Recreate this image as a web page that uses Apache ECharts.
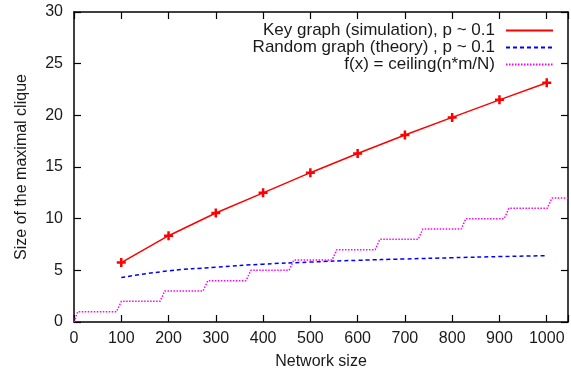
<!DOCTYPE html>
<html>
<head>
<meta charset="utf-8">
<script src="https://cdn.jsdelivr.net/npm/echarts@6/dist/echarts.min.js"></script>
<style>
  html, body { margin: 0; padding: 0; background: #fff; }
  #chart { width: 571px; height: 376px; }
</style>
</head>
<body>
<div id="chart"></div>
<script>
// Key graph (simulation)
const simSizes = [100, 200, 300, 400, 500, 600, 700, 800, 900, 1000]
const simClique = [5.75, 8.35, 10.55, 12.5, 14.45, 16.3, 18.1, 19.8, 21.5, 23.15]

// Random graph theory curve
const theorySizes = [100, 200, 300, 400, 500, 600, 700, 800, 900, 1000]
const theoryClique = [4.3, 4.95, 5.3, 5.6, 5.8, 5.97, 6.1, 6.22, 6.33, 6.42]

// ceiling(n*m/N): where each step starts (x), and the level reached
const stepStarts = [0, 90, 182, 273, 364, 455, 546, 637, 728, 819, 910, 1001]
const stepLevels = [1, 2, 3, 4, 5, 6, 7, 8, 9, 10, 11, 12]
const xEnd = 1045

const stepData = [[0, 0]]
for (let i = 0; i < stepStarts.length; i++) {
    const x0 = i === 0 ? 0 : stepStarts[i]
    stepData.push([x0 + (i === 0 ? 8 : 10), stepLevels[i]])
    const next = i + 1 < stepStarts.length ? stepStarts[i + 1] : xEnd
    stepData.push([next, stepLevels[i]])
}

const FONT = 'Liberation Sans'
const TEXT = '#1a1a1a'
const plus = 'path://M3.6,0H6.4V3.6H10V6.4H6.4V10H3.6V6.4H0V3.6H3.6Z'

const chart = echarts.init(document.getElementById('chart'), null, { renderer: 'canvas' })

// gnuplot-style border: ticks pointing into the plot on all four sides
const axisLine = () => ({ show: true, onZero: false, lineStyle: { color: '#000', width: 1.5 } })
const tick = () => ({ show: true, inside: true, length: 7, lineStyle: { color: '#000', width: 1.2 } })

chart.setOption({
    animation: false,
    textStyle: { fontFamily: FONT },
    grid: { left: 74, right: 1, top: 12, bottom: 54 },
    legend: {
        orient: 'vertical',
        right: 17,
        top: 22,
        padding: 0,
        align: 'right',
        itemWidth: 47,
        itemHeight: 10,
        itemGap: 0,
        selectedMode: false,
        itemStyle: { opacity: 0 },
        textStyle: { fontFamily: FONT, fontSize: 17, color: TEXT, lineHeight: 15, padding: [0, 6, 0, 0] },
        data: ['Key graph (simulation), p ~ 0.1', 'Random graph (theory) , p ~ 0.1', 'f(x) = ceiling(n*m/N)']
    },
    xAxis: [{
        type: 'value',
        min: 0,
        max: xEnd,
        interval: 100,
        name: 'Network size',
        nameLocation: 'middle',
        nameGap: 32,
        nameTextStyle: { fontFamily: FONT, fontSize: 16, color: TEXT },
        axisLine: axisLine(),
        axisTick: tick(),
        splitLine: { show: false },
        axisLabel: {
            margin: 9, fontFamily: FONT, fontSize: 16, color: TEXT,
            formatter: v => (v % 100 === 0 ? String(v) : '')
        }
    }, {
        type: 'value',
        position: 'top',
        min: 0,
        max: xEnd,
        interval: 100,
        axisLine: axisLine(),
        axisTick: tick(),
        axisLabel: { show: false },
        splitLine: { show: false }
    }],
    yAxis: [{
        type: 'value',
        min: 0,
        max: 30,
        interval: 5,
        name: 'Size of the maximal clique',
        nameLocation: 'middle',
        nameGap: 44,
        nameTextStyle: { fontFamily: FONT, fontSize: 16, color: TEXT },
        axisLine: axisLine(),
        axisTick: tick(),
        splitLine: { show: false },
        axisLabel: { margin: 11, fontFamily: FONT, fontSize: 16, color: TEXT }
    }, {
        type: 'value',
        position: 'right',
        min: 0,
        max: 30,
        interval: 5,
        axisLine: axisLine(),
        axisTick: tick(),
        axisLabel: { show: false },
        splitLine: { show: false }
    }],
    series: [
        {
            name: 'Key graph (simulation), p ~ 0.1',
            type: 'line',
            data: simSizes.map((x, i) => [x, simClique[i]]),
            symbol: plus,
            symbolSize: 9,
            itemStyle: { color: '#ff0000' },
            lineStyle: { color: '#ff0000', width: 1.5 },
            z: 3
        },
        {
            name: 'Random graph (theory) , p ~ 0.1',
            type: 'line',
            data: theorySizes.map((x, i) => [x, theoryClique[i]]),
            smooth: true,
            showSymbol: false,
            symbol: 'none',
            itemStyle: { color: '#0000ff' },
            lineStyle: { color: '#0000ff', width: 1.5, type: [4, 3] }
        },
        {
            name: 'f(x) = ceiling(n*m/N)',
            type: 'line',
            data: stepData,
            showSymbol: false,
            symbol: 'none',
            itemStyle: { color: '#ff00ff' },
            lineStyle: { color: '#ff00ff', width: 1.5, type: [1.5, 1.5] }
        }
    ]
})
</script>
</body>
</html>
